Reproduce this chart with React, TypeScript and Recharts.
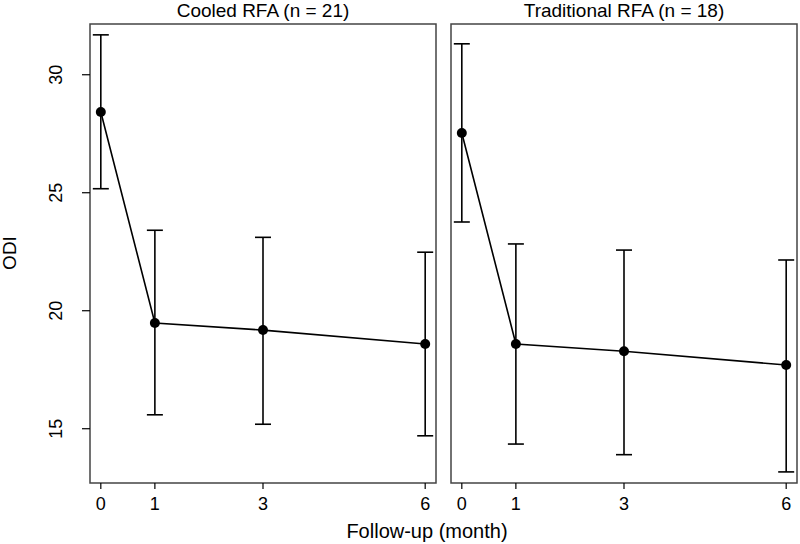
import { ErrorBar, Line, LineChart, ReferenceArea, XAxis, YAxis } from "recharts";

const months = [0, 1, 3, 6];

// Cooled RFA (n = 21)
const cooledMean = [28.42, 19.48, 19.18, 18.59];
const cooledLower = [25.17, 15.59, 15.19, 14.7];
const cooledUpper = [31.69, 23.41, 23.11, 22.48];

// Traditional RFA (n = 18)
const tradMean = [27.53, 18.59, 18.28, 17.7];
const tradLower = [23.76, 14.35, 13.9, 13.17];
const tradUpper = [31.31, 22.83, 22.57, 22.15];

const yTicks = [15, 20, 25, 30];
const X_DOMAIN = [-0.2, 6.2];
const Y_DOMAIN = [12.7, 32.15];
const FONT = "'Liberation Sans', Arial, Helvetica, sans-serif";

const build = (mean, lower, upper) =>
  months.map((m, i) => ({
    month: m,
    mean: mean[i],
    err: [mean[i] - lower[i], upper[i] - mean[i]],
  }));

const cooledData = build(cooledMean, cooledLower, cooledUpper);
const tradData = build(tradMean, tradLower, tradUpper);

const YTick = ({ x, y, payload }) => (
  <text
    x={x}
    y={y}
    transform={`rotate(-90, ${x}, ${y})`}
    textAnchor="middle"
    fontSize={18}
    fontFamily={FONT}
    fill="#000"
  >
    {payload.value}
  </text>
);

function Panel({ data, margin, showY }) {
  return (
    <LineChart
      width={800}
      height={544}
      data={data}
      margin={margin}
      style={{ position: "absolute", left: 0, top: 0 }}
    >
      <XAxis
        dataKey="month"
        type="number"
        domain={X_DOMAIN}
        ticks={months}
        allowDataOverflow
        axisLine={false}
        tickSize={6}
        tickMargin={8}
        height={40}
        tickLine={{ stroke: "#000", strokeWidth: 1.2 }}
        tick={{ fontSize: 18, fontFamily: FONT, fill: "#000" }}
      />
      <YAxis
        type="number"
        domain={Y_DOMAIN}
        ticks={yTicks}
        allowDataOverflow
        hide={!showY}
        width={40}
        axisLine={false}
        tickSize={8}
        tickMargin={20}
        tickLine={{ stroke: "#000", strokeWidth: 1.2 }}
        tick={<YTick />}
      />
      <ReferenceArea
        x1={X_DOMAIN[0]}
        x2={X_DOMAIN[1]}
        y1={Y_DOMAIN[0]}
        y2={Y_DOMAIN[1]}
        fill="none"
        stroke="#444"
        strokeWidth={1.5}
        fillOpacity={0}
      />
      <Line
        type="linear"
        dataKey="mean"
        stroke="#000"
        strokeWidth={1.6}
        dot={{ r: 5, fill: "#000", stroke: "#000", strokeWidth: 0 }}
        activeDot={false}
        isAnimationActive={false}
      >
        <ErrorBar
          dataKey="err"
          direction="y"
          width={8}
          stroke="#000"
          strokeWidth={1.6}
          isAnimationActive={false}
        />
      </Line>
    </LineChart>
  );
}

export default function App() {
  return (
    <div
      style={{
        position: "fixed",
        left: 0,
        top: 0,
        width: 800,
        height: 544,
        background: "#fff",
        fontFamily: FONT,
      }}
    >
      <Panel data={cooledData} margin={{ top: 24, right: 364, bottom: 21, left: 50 }} showY />
      <Panel data={tradData} margin={{ top: 24, right: 3, bottom: 21, left: 451 }} showY={false} />
      <svg
        width={800}
        height={544}
        style={{ position: "absolute", left: 0, top: 0, pointerEvents: "none" }}
      >
        <text x={263} y={17} textAnchor="middle" fontSize={19} fontFamily={FONT} fill="#000">
          Cooled RFA (n = 21)
        </text>
        <text x={624} y={17} textAnchor="middle" fontSize={19} fontFamily={FONT} fill="#000">
          Traditional RFA (n = 18)
        </text>
        <text
          x={16}
          y={253}
          transform="rotate(-90, 16, 253)"
          textAnchor="middle"
          fontSize={19}
          fontFamily={FONT}
          fill="#000"
        >
          ODI
        </text>
        <text x={427} y={538} textAnchor="middle" fontSize={20} fontFamily={FONT} fill="#000">
          Follow-up (month)
        </text>
      </svg>
    </div>
  );
}
